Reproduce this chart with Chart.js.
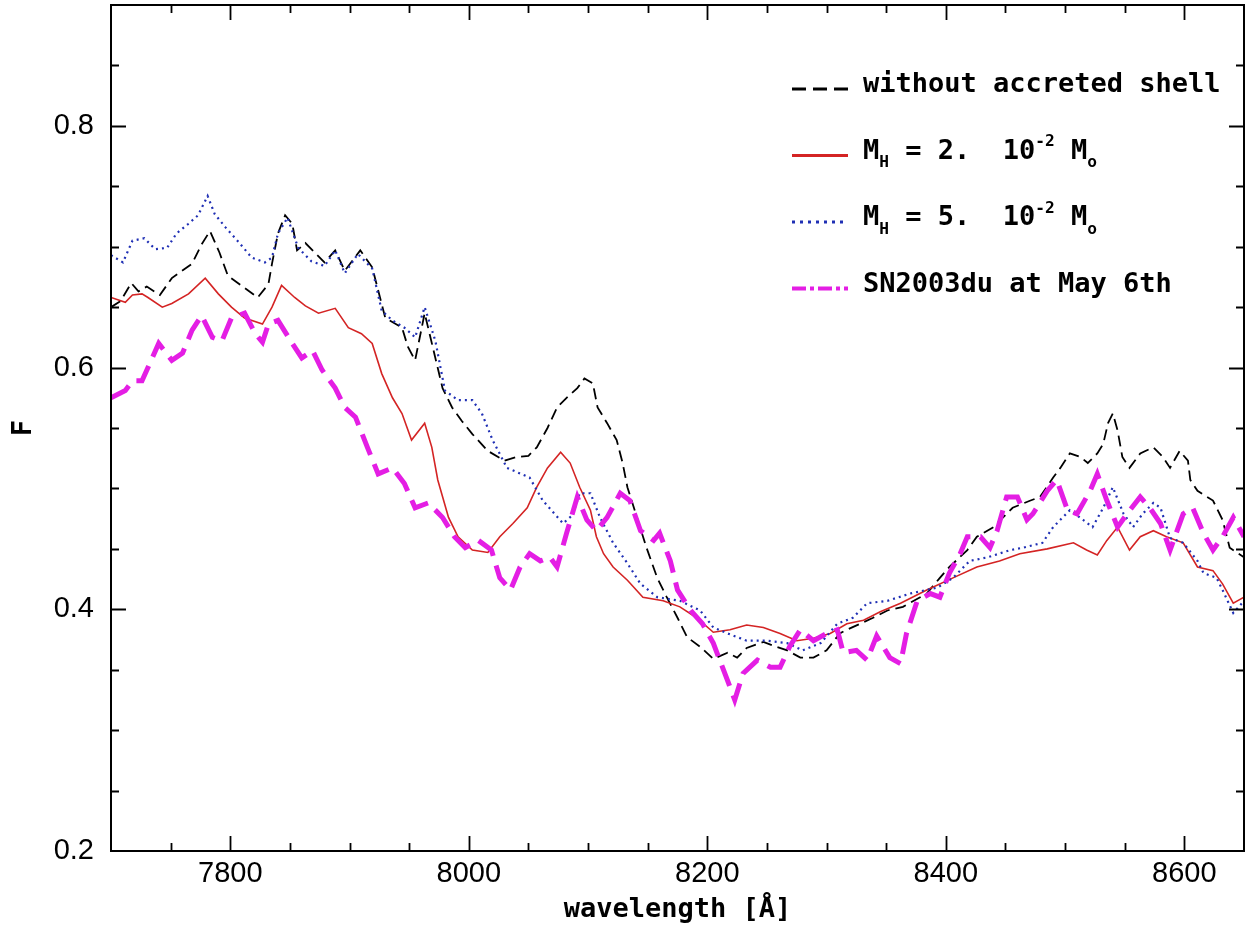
<!DOCTYPE html>
<html>
<head>
<meta charset="utf-8">
<script src="https://cdn.jsdelivr.net/npm/chart.js@4"></script>
<style>
  html, body { margin: 0; padding: 0; background: #fff; }
  canvas { display: block; }
</style>
</head>
<body>
<canvas id="spectrum" width="1251" height="934"></canvas>
<script>
// wavelength [Å] / flux readings for each curve
const waveNoShell = [7700, 7708, 7717, 7723, 7730, 7741, 7751, 7768, 7776, 7783, 7791, 7798, 7812, 7823, 7832, 7835, 7840, 7846, 7852, 7856, 7863, 7871, 7879, 7888, 7896, 7909, 7919, 7924, 7930, 7944, 7949, 7955, 7963, 7978, 7986, 7994, 8003, 8016, 8030, 8040, 8050, 8057, 8066, 8074, 8082, 8091, 8097, 8104, 8108, 8116, 8124, 8129, 8133, 8141, 8149, 8158, 8166, 8175, 8183, 8194, 8205, 8217, 8225, 8233, 8247, 8255, 8267, 8278, 8289, 8300, 8311, 8317, 8328, 8339, 8351, 8364, 8384, 8395, 8403, 8418, 8426, 8440, 8448, 8456, 8471, 8479, 8490, 8496, 8504, 8513, 8519, 8527, 8532, 8536, 8540, 8544, 8548, 8554, 8563, 8574, 8582, 8588, 8596, 8603, 8605, 8611, 8624, 8632, 8638, 8650];
const fluxNoShell = [0.650, 0.655, 0.670, 0.663, 0.667, 0.660, 0.674, 0.686, 0.702, 0.713, 0.695, 0.676, 0.666, 0.658, 0.669, 0.686, 0.711, 0.726, 0.719, 0.697, 0.703, 0.695, 0.687, 0.697, 0.680, 0.697, 0.683, 0.664, 0.641, 0.633, 0.617, 0.606, 0.645, 0.583, 0.567, 0.556, 0.545, 0.531, 0.523, 0.526, 0.527, 0.534, 0.550, 0.567, 0.575, 0.583, 0.591, 0.587, 0.567, 0.554, 0.540, 0.521, 0.501, 0.476, 0.451, 0.426, 0.410, 0.393, 0.377, 0.369, 0.359, 0.364, 0.360, 0.368, 0.373, 0.370, 0.366, 0.360, 0.360, 0.366, 0.380, 0.383, 0.388, 0.393, 0.399, 0.402, 0.413, 0.426, 0.435, 0.449, 0.460, 0.468, 0.476, 0.484, 0.490, 0.493, 0.509, 0.517, 0.529, 0.526, 0.521, 0.529, 0.537, 0.554, 0.562, 0.548, 0.526, 0.517, 0.529, 0.534, 0.526, 0.517, 0.531, 0.523, 0.507, 0.498, 0.490, 0.474, 0.451, 0.443];

const waveShell2 = [7700, 7712, 7718, 7726, 7731, 7743, 7751, 7765, 7779, 7790, 7801, 7812, 7827, 7835, 7843, 7854, 7863, 7874, 7888, 7899, 7910, 7919, 7927, 7936, 7944, 7952, 7963, 7969, 7974, 7983, 7991, 8003, 8016, 8026, 8037, 8049, 8057, 8066, 8077, 8085, 8093, 8102, 8107, 8113, 8121, 8133, 8146, 8163, 8177, 8191, 8205, 8219, 8233, 8247, 8261, 8275, 8289, 8303, 8317, 8331, 8345, 8362, 8384, 8406, 8426, 8445, 8462, 8485, 8507, 8518, 8527, 8535, 8544, 8554, 8563, 8574, 8585, 8599, 8611, 8624, 8632, 8641, 8650];
const fluxShell2 = [0.658, 0.654, 0.660, 0.661, 0.658, 0.650, 0.653, 0.661, 0.674, 0.661, 0.650, 0.641, 0.636, 0.650, 0.668, 0.658, 0.651, 0.645, 0.649, 0.633, 0.628, 0.620, 0.595, 0.575, 0.562, 0.540, 0.554, 0.534, 0.507, 0.476, 0.460, 0.449, 0.447, 0.460, 0.471, 0.484, 0.501, 0.517, 0.530, 0.521, 0.501, 0.482, 0.460, 0.446, 0.435, 0.424, 0.410, 0.407, 0.402, 0.393, 0.381, 0.383, 0.387, 0.385, 0.380, 0.374, 0.376, 0.380, 0.388, 0.391, 0.398, 0.405, 0.416, 0.426, 0.435, 0.440, 0.446, 0.450, 0.455, 0.449, 0.445, 0.457, 0.468, 0.449, 0.460, 0.465, 0.460, 0.455, 0.435, 0.432, 0.421, 0.405, 0.410];

const waveShell5 = [7700, 7710, 7718, 7728, 7737, 7747, 7755, 7765, 7773, 7781, 7787, 7796, 7806, 7818, 7829, 7835, 7840, 7848, 7857, 7868, 7879, 7888, 7896, 7907, 7919, 7927, 7936, 7946, 7955, 7963, 7972, 7980, 7991, 8003, 8011, 8020, 8032, 8051, 8062, 8079, 8087, 8093, 8102, 8110, 8121, 8133, 8144, 8158, 8177, 8194, 8205, 8217, 8233, 8250, 8267, 8280, 8295, 8309, 8322, 8334, 8351, 8370, 8393, 8406, 8420, 8435, 8454, 8465, 8481, 8490, 8496, 8504, 8515, 8523, 8532, 8540, 8549, 8557, 8565, 8574, 8580, 8588, 8599, 8611, 8616, 8627, 8632, 8641, 8650];
const fluxShell5 = [0.693, 0.687, 0.705, 0.707, 0.698, 0.699, 0.711, 0.719, 0.726, 0.742, 0.727, 0.716, 0.705, 0.691, 0.687, 0.691, 0.711, 0.724, 0.699, 0.688, 0.684, 0.697, 0.678, 0.694, 0.682, 0.647, 0.639, 0.633, 0.625, 0.650, 0.622, 0.581, 0.573, 0.573, 0.562, 0.540, 0.517, 0.509, 0.490, 0.471, 0.478, 0.496, 0.496, 0.476, 0.455, 0.438, 0.421, 0.410, 0.407, 0.399, 0.385, 0.380, 0.374, 0.374, 0.372, 0.366, 0.372, 0.388, 0.393, 0.405, 0.407, 0.413, 0.418, 0.426, 0.440, 0.443, 0.449, 0.451, 0.455, 0.468, 0.474, 0.482, 0.474, 0.468, 0.484, 0.501, 0.479, 0.468, 0.479, 0.488, 0.484, 0.459, 0.455, 0.440, 0.430, 0.426, 0.416, 0.397, 0.407];

const waveObserved = [7700, 7712, 7718, 7726, 7731, 7740, 7751, 7760, 7768, 7776, 7785, 7793, 7801, 7812, 7821, 7827, 7832, 7840, 7852, 7860, 7869, 7877, 7888, 7896, 7905, 7915, 7924, 7936, 7946, 7955, 7966, 7978, 7988, 7997, 8008, 8019, 8026, 8035, 8043, 8051, 8060, 8068, 8074, 8082, 8091, 8099, 8107, 8116, 8127, 8135, 8144, 8155, 8160, 8169, 8175, 8186, 8196, 8205, 8217, 8223, 8230, 8242, 8253, 8261, 8269, 8278, 8289, 8300, 8309, 8314, 8325, 8334, 8342, 8353, 8362, 8367, 8376, 8387, 8395, 8403, 8412, 8418, 8429, 8437, 8443, 8451, 8460, 8468, 8473, 8485, 8493, 8502, 8510, 8521, 8527, 8535, 8544, 8552, 8563, 8571, 8580, 8588, 8599, 8607, 8616, 8624, 8632, 8641, 8650];
const fluxObserved = [0.575, 0.581, 0.589, 0.589, 0.600, 0.620, 0.606, 0.612, 0.631, 0.643, 0.625, 0.622, 0.641, 0.645, 0.628, 0.621, 0.636, 0.639, 0.620, 0.608, 0.614, 0.598, 0.583, 0.567, 0.559, 0.534, 0.512, 0.517, 0.504, 0.484, 0.488, 0.476, 0.460, 0.451, 0.457, 0.449, 0.426, 0.416, 0.435, 0.446, 0.440, 0.443, 0.435, 0.463, 0.493, 0.474, 0.465, 0.476, 0.496, 0.490, 0.465, 0.457, 0.463, 0.440, 0.416, 0.399, 0.388, 0.372, 0.341, 0.325, 0.347, 0.358, 0.352, 0.352, 0.369, 0.383, 0.374, 0.380, 0.383, 0.364, 0.366, 0.358, 0.378, 0.360, 0.355, 0.380, 0.407, 0.413, 0.410, 0.430, 0.446, 0.460, 0.460, 0.451, 0.465, 0.493, 0.493, 0.474, 0.479, 0.498, 0.507, 0.482, 0.479, 0.498, 0.512, 0.490, 0.468, 0.479, 0.493, 0.484, 0.471, 0.449, 0.479, 0.484, 0.463, 0.449, 0.460, 0.476, 0.460];

const seriesLabels = [
    "without accreted shell",
    "M_{H} = 2.  10^{-2} M_{o}",
    "M_{H} = 5.  10^{-2} M_{o}",
    "SN2003du at May 6th",
];
const xTicks = [7800, 8000, 8200, 8400, 8600];
const yTicks = [0.2, 0.4, 0.6, 0.8];

const tickFont = { family: "Liberation Sans", size: 29 };
const labelFamily = "DejaVu Sans Mono";

const toPoints = (xs, ys) => xs.map((x, i) => ({ x: x, y: ys[i] }));

// frame with inward ticks on all four sides
const frameAndTicks = {
    id: "frameAndTicks",
    afterDatasetsDraw(chart) {
        const { ctx, chartArea: a } = chart;
        const x = chart.scales.x;
        const y = chart.scales.y;
        ctx.save();
        ctx.strokeStyle = "#000";
        ctx.lineWidth = 1.8;
        ctx.beginPath();
        for (let k = 1; k < 19; k++) {
            const w = 7700 + k * 50;
            const px = Math.round(x.getPixelForValue(w)) + 0.5;
            const len = w % 200 === 0 ? 15 : 8;
            ctx.moveTo(px, a.bottom);
            ctx.lineTo(px, a.bottom - len);
            ctx.moveTo(px, a.top);
            ctx.lineTo(px, a.top + len);
        }
        for (let k = 1; k < 14; k++) {
            const py = Math.round(y.getPixelForValue(0.2 + k * 0.05)) + 0.5;
            const len = k % 4 === 0 ? 15 : 8;
            ctx.moveTo(a.left, py);
            ctx.lineTo(a.left + len, py);
            ctx.moveTo(a.right, py);
            ctx.lineTo(a.right - len, py);
        }
        ctx.stroke();
        ctx.lineWidth = 2;
        ctx.strokeRect(a.left, a.top, a.right - a.left, a.bottom - a.top);
        ctx.restore();
    },
};

// text with _{sub} and ^{sup} parts
const drawRichText = (ctx, text, x, y, size) => {
    const parts = text.split(/([_^]\{[^}]*\})/).filter((p) => p.length > 0);
    parts.forEach((p) => {
        let s = p;
        let dy = 0;
        let sz = size;
        if (p[0] === "_") {
            s = p.slice(2, -1);
            dy = size * 0.32;
            sz = size * 0.6;
        } else if (p[0] === "^") {
            s = p.slice(2, -1);
            dy = -size * 0.45;
            sz = size * 0.6;
        }
        ctx.font = "bold " + sz + "px \"" + labelFamily + "\"";
        ctx.fillText(s, x, y + dy);
        x += ctx.measureText(s).width;
    });
};

const legendBox = {
    id: "legendBox",
    afterDraw(chart) {
        const { ctx, chartArea: a } = chart;
        const lineStart = a.right - 452;
        const lineEnd = a.right - 396;
        const textX = a.right - 381;
        ctx.save();
        ctx.textBaseline = "alphabetic";
        ctx.fillStyle = "#000";
        chart.data.datasets.forEach((ds, i) => {
            const base = a.top + 87 + i * 66.5;
            ctx.save();
            ctx.strokeStyle = ds.borderColor;
            ctx.lineWidth = ds.legendWidth;
            ctx.setLineDash(ds.legendDash);
            ctx.beginPath();
            ctx.moveTo(lineStart, base - 3);
            ctx.lineTo(lineEnd, base - 3);
            ctx.stroke();
            ctx.restore();
            drawRichText(ctx, ds.label, textX, base, 27);
        });
        ctx.restore();
    },
};

new Chart(document.getElementById("spectrum"), {
    type: "line",
    data: {
        datasets: [
            {
                label: seriesLabels[0],
                data: toPoints(waveNoShell, fluxNoShell),
                borderColor: "#000000",
                borderWidth: 1.8,
                borderDash: [11, 6],
                legendWidth: 3,
                legendDash: [14, 7],
                order: 0,
            },
            {
                label: seriesLabels[1],
                data: toPoints(waveShell2, fluxShell2),
                borderColor: "#d42424",
                borderWidth: 1.6,
                borderDash: [],
                legendWidth: 3,
                legendDash: [],
                order: -1,
            },
            {
                label: seriesLabels[2],
                data: toPoints(waveShell5, fluxShell5),
                borderColor: "#1f2fb4",
                borderWidth: 2.2,
                borderDash: [2, 4],
                legendWidth: 3,
                legendDash: [3, 5],
                order: -2,
            },
            {
                label: seriesLabels[3],
                data: toPoints(waveObserved, fluxObserved),
                borderColor: "#e41ee4",
                borderWidth: 5,
                borderDash: [22, 10],
                legendWidth: 4,
                legendDash: [14, 4, 4, 4],
                order: -3,
            },
        ],
    },
    options: {
        responsive: false,
        animation: false,
        events: [],
        layout: { padding: { left: 0, right: 7, top: 5, bottom: 0 } },
        elements: {
            point: { radius: 0 },
            line: { tension: 0, fill: false },
        },
        plugins: {
            legend: { display: false },
            tooltip: { enabled: false },
        },
        scales: {
            x: {
                type: "linear",
                min: 7700,
                max: 8650,
                afterBuildTicks: (scale) => {
                    scale.ticks = xTicks.map((v) => ({ value: v }));
                },
                afterFit: (scale) => {
                    scale.height = 83;
                    scale.paddingLeft = 0;
                    scale.paddingRight = 0;
                },
                grid: { display: false, drawTicks: false },
                border: { display: false },
                ticks: {
                    font: tickFont,
                    color: "#000",
                    padding: 6,
                    maxRotation: 0,
                    autoSkip: false,
                    callback: (v) => String(v),
                },
                title: {
                    display: true,
                    text: "wavelength [Å]",
                    color: "#000",
                    font: { family: labelFamily, size: 27, weight: "bold" },
                    padding: { top: 0, bottom: 8 },
                },
            },
            y: {
                type: "linear",
                min: 0.2,
                max: 0.9,
                afterBuildTicks: (scale) => {
                    scale.ticks = yTicks.map((v) => ({ value: v }));
                },
                afterFit: (scale) => {
                    scale.width = 111;
                    scale.paddingTop = 0;
                    scale.paddingBottom = 0;
                },
                grid: { display: false, drawTicks: false },
                border: { display: false },
                ticks: {
                    font: tickFont,
                    color: "#000",
                    padding: 17,
                    autoSkip: false,
                    callback: (v) => v.toFixed(1),
                },
                title: {
                    display: true,
                    text: "F",
                    color: "#000",
                    font: { family: labelFamily, size: 27, weight: "bold" },
                    padding: { top: 8, bottom: 0 },
                },
            },
        },
    },
    plugins: [frameAndTicks, legendBox],
});
</script>
</body>
</html>
